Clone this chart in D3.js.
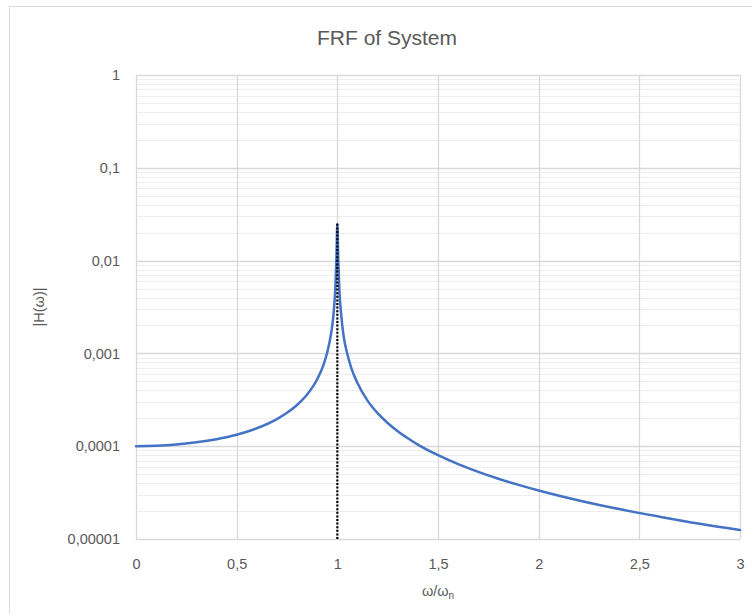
<!DOCTYPE html>
<html>
<head>
<meta charset="utf-8">
<script src="https://cdn.jsdelivr.net/npm/d3@7"></script>
<style>
  body { margin: 0; background: #fff; }
  svg text { font-family: "Liberation Sans", Arial, sans-serif; fill: #595959; }
</style>
</head>
<body>
<div id="chart"></div>
<script>
// ratio w/wn and |H(w)|
const ratio = [0, 0.1, 0.2, 0.3, 0.4, 0.5, 0.6, 0.7, 0.75, 0.8, 0.85, 0.9, 0.93, 0.95, 0.97, 0.98, 0.99, 0.995, 1.0,
  1.005, 1.01, 1.02, 1.03, 1.05, 1.07, 1.1, 1.15, 1.2, 1.25, 1.3, 1.35, 1.4, 1.5, 1.6, 1.7, 1.8, 1.9, 2.0, 2.2, 2.4, 2.6, 2.8, 3.0];
const magnitude = [1.0e-4, 1.01e-4, 1.04e-4, 1.10e-4, 1.19e-4, 1.33e-4, 1.56e-4, 1.96e-4, 2.29e-4, 2.78e-4, 3.6e-4, 5.26e-4, 7.4e-4, 1.03e-3, 1.69e-3, 2.5e-3, 5.0e-3, 9.8e-3, 2.5e-2,
  9.7e-3, 4.9e-3, 2.5e-3, 1.6e-3, 9.8e-4, 6.9e-4, 4.8e-4, 3.1e-4, 2.27e-4, 1.78e-4, 1.45e-4, 1.22e-4, 1.04e-4, 8.0e-5, 6.41e-5, 5.29e-5, 4.46e-5, 3.83e-5, 3.33e-5, 2.6e-5, 2.1e-5, 1.74e-5, 1.46e-5, 1.25e-5];

// dotted marker at resonance
const resonanceX = [1, 1];
const resonanceY = [1e-5, 0.025];

const xTicks = [0, 0.5, 1, 1.5, 2, 2.5, 3];
const xTickLabels = ["0", "0,5", "1", "1,5", "2", "2,5", "3"];
const yTicks = [1, 0.1, 0.01, 0.001, 0.0001, 0.00001];
const yTickLabels = ["1", "0,1", "0,01", "0,001", "0,0001", "0,00001"];

const width = 752, height = 614;
const margin = { top: 75, right: 12, bottom: 75, left: 136 };

const svg = d3.select('#chart').append('svg')
  .attr('width', width)
  .attr('height', height);

svg.append('rect')
  .attr('x', 9.5).attr('y', 6.5)
  .attr('width', 780).attr('height', 640)
  .attr('fill', '#fff')
  .attr('stroke', '#d9d9d9');

const x = d3.scaleLinear().domain([0, 3]).range([margin.left, width - margin.right]);
const y = d3.scaleLog().domain([1e-5, 1]).range([height - margin.bottom, margin.top]);

// minor gridlines
const minor = y.ticks().filter(v => !yTicks.some(t => Math.abs(t - v) / t < 1e-9));
svg.append('g').selectAll('line').data(minor).enter().append('line')
  .attr('x1', x(0)).attr('x2', x(3))
  .attr('y1', d => Math.round(y(d)) + 0.5).attr('y2', d => Math.round(y(d)) + 0.5)
  .attr('stroke', '#eeeeee').attr('stroke-width', 1);

// major gridlines
svg.append('g').selectAll('line').data(yTicks).enter().append('line')
  .attr('x1', x(0)).attr('x2', x(3))
  .attr('y1', d => Math.round(y(d)) + 0.5).attr('y2', d => Math.round(y(d)) + 0.5)
  .attr('stroke', '#d9d9d9').attr('stroke-width', 1.3);

svg.append('g').selectAll('line').data(xTicks).enter().append('line')
  .attr('x1', d => Math.round(x(d)) + 0.5).attr('x2', d => Math.round(x(d)) + 0.5)
  .attr('y1', y(1)).attr('y2', y(1e-5))
  .attr('stroke', '#d9d9d9').attr('stroke-width', 1.3);

// axes (labels only)
const xAxis = svg.append('g')
  .attr('transform', `translate(0,${y(1e-5)})`)
  .call(d3.axisBottom(x).tickValues(xTicks).tickSize(0).tickPadding(20)
    .tickFormat((d, i) => xTickLabels[i]));
const yAxis = svg.append('g')
  .attr('transform', `translate(${x(0)},0)`)
  .call(d3.axisLeft(y).tickValues(yTicks).tickSize(0).tickPadding(16)
    .tickFormat((d, i) => yTickLabels[i]));
[xAxis, yAxis].forEach(a => {
  a.select('.domain').remove();
  a.selectAll('text').attr('font-size', '14.5px').attr('fill', '#595959')
    .style('font-family', '"Liberation Sans", Arial, sans-serif');
});

const data = ratio.map((r, i) => ({ r: r, h: magnitude[i] }));

const line = d3.line()
  .x(d => x(d.r))
  .y(d => y(d.h))
  .curve(d3.curveMonotoneX);

svg.append('path')
  .datum(data)
  .attr('d', line)
  .attr('fill', 'none')
  .attr('stroke', '#4472c4')
  .attr('stroke-width', 2.5)
  .attr('stroke-linejoin', 'round')
  .attr('stroke-linecap', 'round');

svg.append('line')
  .attr('x1', x(resonanceX[0])).attr('x2', x(resonanceX[1]))
  .attr('y1', y(resonanceY[0])).attr('y2', y(resonanceY[1]))
  .attr('stroke', '#000')
  .attr('stroke-width', 2.2)
  .attr('stroke-dasharray', '2,1.6');

// titles
svg.append('text')
  .attr('x', 387).attr('y', 45)
  .attr('text-anchor', 'middle')
  .attr('font-size', '21px')
  .text('FRF of System');

const xl = svg.append('text')
  .attr('x', (x(0) + x(3)) / 2).attr('y', 596)
  .attr('text-anchor', 'middle')
  .attr('font-size', '14.5px');
xl.append('tspan').text('ω/ω');
xl.append('tspan').attr('font-size', '10px').attr('dy', 3).text('n');

svg.append('text')
  .attr('transform', `translate(44,${(y(1) + y(1e-5)) / 2}) rotate(-90)`)
  .attr('text-anchor', 'middle')
  .attr('font-size', '14.5px')
  .text('|H(ω)|');
</script>
</body>
</html>
